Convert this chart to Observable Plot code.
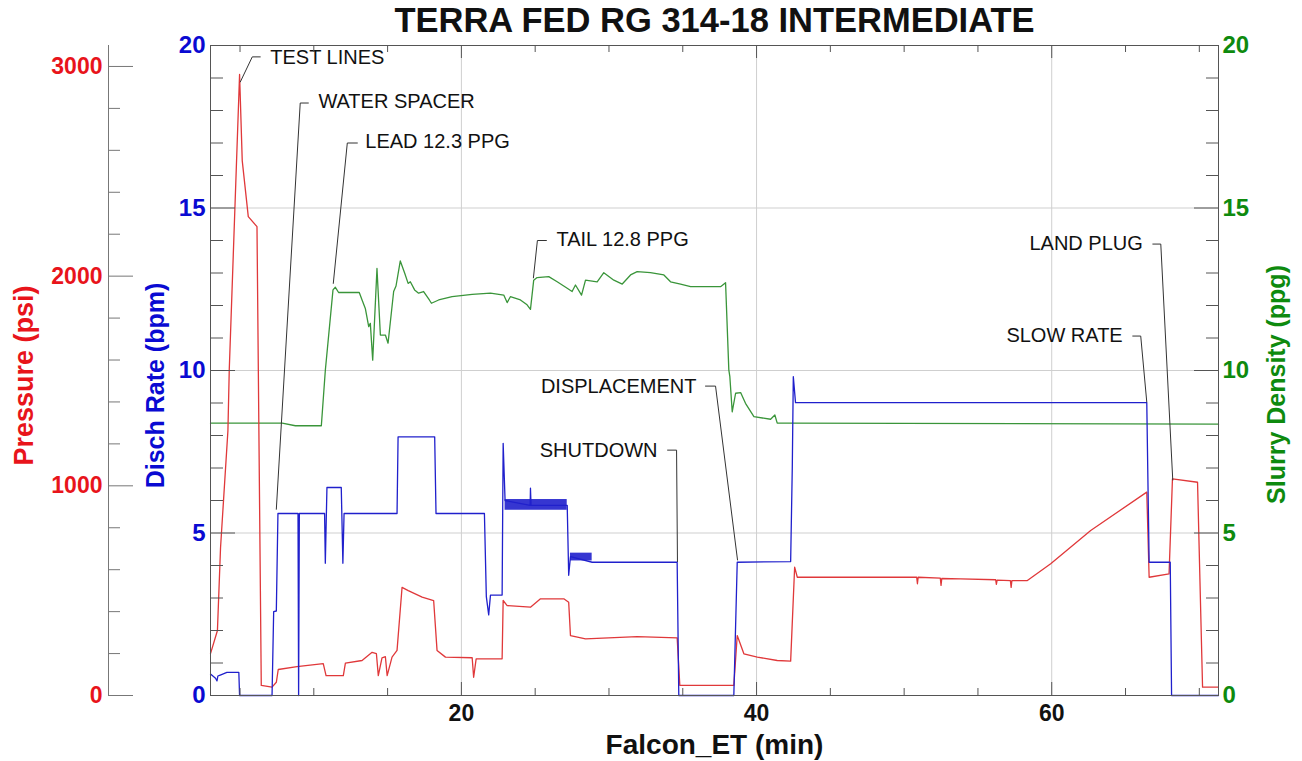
<!DOCTYPE html>
<html><head><meta charset="utf-8">
<script src="https://cdn.jsdelivr.net/npm/d3@7"></script>
<script src="https://cdn.jsdelivr.net/npm/@observablehq/plot@0.6"></script>
<style>body{margin:0;background:#fff}</style>
</head><body><div id="chart"></div>
<script>
// ---------------- DATA ----------------
const title = "TERRA FED RG 314-18 INTERMEDIATE";
const xLabel = "Falcon_ET (min)";
const pressureLabel = "Pressure (psi)";
const rateLabel = "Disch Rate (bpm)";
const densityLabel = "Slurry Density (ppg)";

const xDomain = [3.0, 71.3];
const rateDomain = [0, 20];
const pressureTop = 3100;

const xMajor = [20, 40, 60];
const xMinor = [5, 10, 15, 25, 30, 35, 45, 50, 55, 65, 70];
const rateMajor = [0, 5, 10, 15, 20];
const rateMinor = [1,2,3,4,6,7,8,9,11,12,13,14,16,17,18,19];
const densityMajor = [0, 5, 10, 15, 20];
const densityMinor = [1,2,3,4,6,7,8,9,11,12,13,14,16,17,18,19];
const pressureMajor = [0, 1000, 2000, 3000];
const pressureMinor = [200,400,600,800,1200,1400,1600,1800,2200,2400,2600,2800];
const gridY = [5, 10, 15];
const gridX = [20, 40, 60];

// Pressure (min, psi)
const pressure = [[3.0,200],[3.47,310],[3.68,705],[4.18,1263],[4.27,1550],[4.97,2962],[5.15,2551],[5.56,2284],[6.15,2236],[6.44,48],[7.17,40],[7.46,63],[7.59,124],[8.86,138],[10.64,152],[10.83,95],[12.0,95],[12.14,154],[13.27,167],[13.95,206],[14.24,200],[14.37,95],[14.62,180],[14.85,185],[14.97,95],[15.3,183],[15.64,215],[15.98,516],[16.4,500],[17.34,469],[18.12,453],[18.35,215],[18.92,183],[20.73,180],[20.83,87],[21.0,175],[22.76,175],[22.83,453],[23.1,429],[24.68,421],[25.36,461],[26.94,461],[27.27,445],[27.39,286],[28.41,270],[31.91,281],[34.62,275],[34.8,48],[38.46,48],[38.69,286],[39.14,199],[40.05,183],[41.4,167],[42.31,164],[42.58,612],[42.76,564],[50.85,564],[50.9,533],[50.95,564],[52.45,560],[52.5,525],[52.55,558],[53.83,556],[56.2,552],[56.25,530],[56.3,550],[57.2,548],[57.25,516],[57.3,548],[58.35,548],[59.93,628],[62.64,787],[66.44,970],[66.6,564],[67.95,580],[68.18,1033],[69.88,1017],[70.22,40],[71.3,40]];

// Discharge rate (min, bpm)
const rate = [[3.0,0.66],[3.34,0.53],[3.44,0.45],[3.5,0.6],[3.66,0.63],[4.11,0.71],[4.92,0.71],[4.97,0],[7.17,0],[7.28,2.58],[7.46,2.6],[7.57,5.6],[8.93,5.6],[8.97,0],[9.02,5.6],[10.73,5.6],[10.78,4.07],[10.89,6.4],[11.86,6.4],[11.97,4.07],[12.05,5.6],[15.64,5.6],[15.71,7.96],[18.19,7.96],[18.28,5.6],[21.56,5.6],[21.69,3.04],[21.85,2.48],[21.97,3.09],[22.76,3.09],[22.83,7.76],[22.96,6.0],[24.66,5.85],[24.68,6.38],[24.72,5.85],[27.17,5.85],[27.27,3.7],[27.39,4.27],[28.86,4.1],[34.62,4.1],[34.73,0],[38.46,0],[38.69,4.1],[42.31,4.12],[42.42,7.0],[42.49,9.81],[42.64,9.01],[66.44,9.01],[66.6,4.1],[68.03,4.1],[68.12,0],[71.3,0]];
// noisy rate bands (min start, min end, low bpm, high bpm)
const rateBands = [[22.96,27.17,5.7,6.03],[27.39,28.86,4.14,4.38]];

// Slurry density (min, ppg)
const density = [[3.0,8.38],[7.86,8.38],[8.75,8.3],[10.51,8.3],[10.78,10.0],[11.3,12.48],[11.46,12.56],[11.68,12.4],[13.08,12.4],[13.27,12.17],[13.49,11.91],[13.72,11.35],[13.83,11.45],[13.99,10.32],[14.28,13.14],[14.51,11.09],[14.85,11.09],[15.03,10.84],[15.41,12.43],[15.57,12.6],[15.86,13.37],[16.16,12.99],[16.39,12.68],[16.54,12.73],[16.83,12.48],[17.1,12.38],[17.44,12.43],[17.83,12.17],[17.97,12.07],[18.46,12.17],[19.37,12.27],[20.73,12.34],[21.97,12.38],[22.87,12.32],[23.1,12.09],[23.32,12.27],[24.0,12.17],[24.45,12.02],[24.68,11.88],[24.9,12.78],[25.13,12.86],[25.92,12.89],[26.49,12.73],[27.17,12.53],[27.5,12.43],[27.73,12.63],[28.14,12.32],[28.41,12.78],[29.2,12.73],[29.65,13.01],[30.33,12.78],[30.9,12.66],[31.46,12.94],[31.91,13.04],[32.81,13.01],[33.72,12.94],[34.17,12.73],[34.85,12.66],[35.53,12.58],[37.56,12.58],[37.9,12.7],[38.12,10.02],[38.19,9.81],[38.35,8.73],[38.58,9.3],[38.92,9.32],[39.25,8.99],[39.82,8.58],[40.95,8.5],[41.24,8.63],[41.4,8.38],[42.08,8.38],[71.3,8.35]];

// Annotations: label, anchor side, label position (min, bpm-axis units), leader path
const annLabels = ["TEST LINES","WATER SPACER","LEAD 12.3 PPG","TAIL 12.8 PPG","SHUTDOWN","DISPLACEMENT","SLOW RATE","LAND PLUG"];
const annSide = ["start","start","start","start","end","end","end","end"];
const annT = [7.05, 10.31, 13.49, 26.44, 33.29, 35.93, 64.81, 66.17];
const annR = [19.62, 18.26, 17.03, 14.02, 7.55, 9.52, 11.06, 13.89];
const annLeaders = [
  [[6.37,19.65],[5.83,19.65],[5.02,18.88]],
  [[9.63,18.23],[9.08,18.23],[7.46,5.73]],
  [[12.95,17.0],[12.27,17.0],[11.32,12.68]],
  [[25.76,14.0],[25.15,14.0],[24.88,12.85]],
  [[33.97,7.55],[34.58,7.55],[34.64,4.12]],
  [[36.54,9.52],[37.22,9.52],[38.71,4.17]],
  [[65.49,11.06],[66.03,11.06],[66.44,9.03]],
  [[66.85,13.89],[67.39,13.89],[68.2,6.63]]
];

// ---------------- STYLE / LAYOUT ----------------
const W = 1302, H = 761, mL = 210, mR = 84, mT = 45, mB = 66;
const fw = W - mL - mR, fh = H - mT - mB;
const FONT = "'Liberation Sans', Arial, Helvetica, sans-serif";
const redText = "#e8141b", blueText = "#0a0ad2", greenText = "#0e8a0e";
const redLine = "#e0383a", blueLine = "#2020cc", greenLine = "#3a953a";
const axisGray = "#555";
const PS = pressureTop / rateDomain[1]; // psi per bpm-axis unit

const pData = pressure.map(([t, v]) => ({t, v}));
const rData = rate.map(([t, v]) => ({t, v}));
const dData = density.map(([t, v]) => ({t, v}));
const bData = rateBands.map(([t0, t1, lo, hi]) => ({t0, t1, lo, hi}));
const ann = annLabels.map((label, i) => ({label, side: annSide[i], t: annT[i], r: annR[i]}));
const leaders = annLeaders.flatMap((pts, i) => pts.map(([t, r]) => ({id: i, t, r})));

const chart = Plot.plot({
  width: W, height: H,
  marginLeft: mL, marginRight: mR, marginTop: mT, marginBottom: mB,
  style: {fontFamily: FONT, background: "#fff", overflow: "visible"},
  x: {domain: xDomain, axis: null},
  y: {domain: rateDomain, axis: null},
  marks: [
    // grid
    Plot.ruleY(gridY, {stroke: "#cfcfcf", strokeWidth: 1}),
    Plot.ruleX(gridX, {stroke: "#cfcfcf", strokeWidth: 1}),
    // series
    Plot.line(dData, {x: "t", y: "v", stroke: greenLine, strokeWidth: 1.3}),
    Plot.line(pData, {x: "t", y: d => d.v / PS, stroke: redLine, strokeWidth: 1.3}),
    Plot.rect(bData, {x1: "t0", x2: "t1", y1: "lo", y2: "hi", fill: blueLine, fillOpacity: 0.9}),
    Plot.line(rData, {x: "t", y: "v", stroke: blueLine, strokeWidth: 1.3}),
    // annotations
    Plot.line(leaders, {x: "t", y: "r", z: "id", stroke: "#333", strokeWidth: 1}),
    Plot.text(ann.filter(d => d.side === "start"), {x: "t", y: "r", text: "label", textAnchor: "start", fontSize: 20, fill: "#111"}),
    Plot.text(ann.filter(d => d.side === "end"), {x: "t", y: "r", text: "label", textAnchor: "end", fontSize: 20, fill: "#111"}),
    // frame
    Plot.frame({stroke: axisGray}),
    // rate ticks (left, inward)
    Plot.tickY(rateMajor, {y: d => d, insetRight: fw - 25, stroke: axisGray}),
    Plot.tickY(rateMinor, {y: d => d, insetRight: fw - 13, stroke: axisGray}),
    // density ticks (right, inward)
    Plot.tickY(densityMajor, {y: d => d, insetLeft: fw - 24, stroke: axisGray}),
    Plot.tickY(densityMinor, {y: d => d, insetLeft: fw - 12, stroke: axisGray}),
    // x ticks top & bottom (inward)
    Plot.tickX(xMajor, {x: d => d, insetTop: fh - 13, stroke: axisGray}),
    Plot.tickX(xMajor, {x: d => d, insetBottom: fh - 13, stroke: axisGray}),
    Plot.tickX(xMinor, {x: d => d, insetTop: fh - 7, stroke: axisGray}),
    Plot.tickX(xMinor, {x: d => d, insetBottom: fh - 7, stroke: axisGray}),
    // pressure axis (offset left)
    Plot.ruleX([xDomain[0]], {dx: -102, stroke: "#777"}),
    Plot.tickY(pressureMajor, {y: p => p / PS, insetLeft: -102, insetRight: fw + 102 - 25, stroke: "#777"}),
    Plot.tickY(pressureMinor, {y: p => p / PS, insetLeft: -102, insetRight: fw + 102 - 12, stroke: "#777"}),
    // tick labels
    Plot.text(pressureMajor, {y: p => p / PS, frameAnchor: "left", dx: -108, textAnchor: "end", lineAnchor: "middle", text: p => String(p), fill: redText, fontSize: 23, fontWeight: "bold"}),
    Plot.text(rateMajor, {y: d => d, frameAnchor: "left", dx: -5, textAnchor: "end", lineAnchor: "middle", text: d => String(d), fill: blueText, fontSize: 24, fontWeight: "bold"}),
    Plot.text(densityMajor, {y: d => d, frameAnchor: "right", dx: 4, textAnchor: "start", lineAnchor: "middle", text: d => String(d), fill: greenText, fontSize: 24, fontWeight: "bold"}),
    Plot.text(xMajor, {x: d => d, frameAnchor: "bottom", dy: 18, textAnchor: "middle", lineAnchor: "middle", text: d => String(d), fill: "#111", fontSize: 23, fontWeight: "bold"}),
    // titles
    Plot.text([title], {frameAnchor: "top", dy: -25, textAnchor: "middle", lineAnchor: "middle", fontSize: 34.5, fontWeight: "bold", fill: "#111"}),
    Plot.text([xLabel], {frameAnchor: "bottom", dy: 50, textAnchor: "middle", lineAnchor: "middle", fontSize: 28, fontWeight: "bold", fill: "#111"}),
    Plot.text([pressureLabel], {frameAnchor: "left", dx: -186, dy: 5, rotate: -90, textAnchor: "middle", lineAnchor: "middle", fontSize: 27, fontWeight: "bold", fill: redText}),
    Plot.text([rateLabel], {frameAnchor: "left", dx: -55, dy: 15, rotate: -90, textAnchor: "middle", lineAnchor: "middle", fontSize: 25, fontWeight: "bold", fill: blueText}),
    Plot.text([densityLabel], {frameAnchor: "right", dx: 58, dy: 14, rotate: -90, textAnchor: "middle", lineAnchor: "middle", fontSize: 25, fontWeight: "bold", fill: greenText})
  ]
});
document.getElementById("chart").appendChild(chart);
</script>
</body></html>
